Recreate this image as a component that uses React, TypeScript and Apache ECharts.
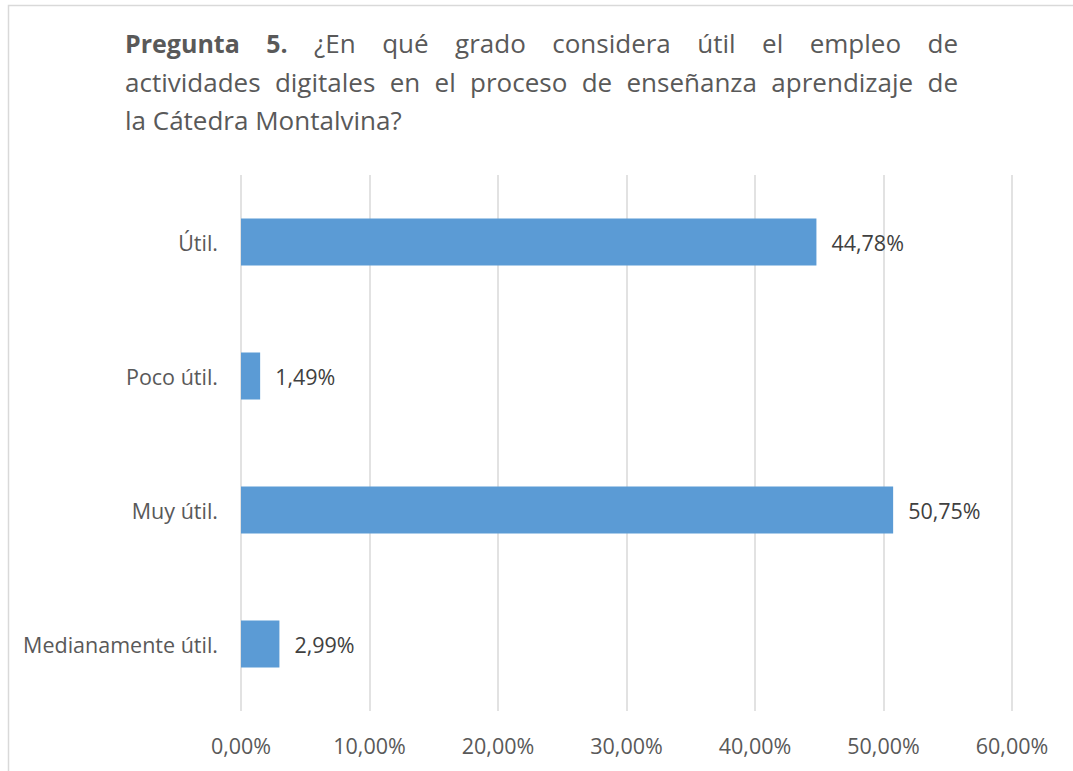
import React, { useEffect, useRef } from "react";
import * as echarts from "echarts";

const categories = ["Útil.", "Poco útil.", "Muy útil.", "Medianamente útil."];
const values = [44.78, 1.49, 50.75, 2.99];
const xTicks = [0, 10, 20, 30, 40, 50, 60];

const titleLine1 = [
  { t: "Pregunta", b: true },
  { t: "5.", b: true },
  { t: "¿En", b: false },
  { t: "qué", b: false },
  { t: "grado", b: false },
  { t: "considera", b: false },
  { t: "útil", b: false },
  { t: "el", b: false },
  { t: "empleo", b: false },
  { t: "de", b: false },
];
const titleLine2 = "actividades digitales en el proceso de enseñanza aprendizaje de";
const titleLine3 = "la Cátedra Montalvina?";

const FONT = "'Open Sans', sans-serif";
const TITLE_SIZE = 26;
const BOLD_SIZE = 25;
const LABEL_SIZE = 21.5;
const TEXT_COLOR = "#595959";

function fmt(v: number) {
  return v.toFixed(2).replace(".", ",") + "%";
}

function measure(text: string, bold: boolean) {
  const c = document.createElement("canvas").getContext("2d")!;
  c.font = `${bold ? "bold " : ""}${bold ? BOLD_SIZE : TITLE_SIZE}px 'Open Sans'`;
  return c.measureText(text).width;
}

function justifiedLine(words: { t: string; b: boolean }[], x0: number, x1: number, y: number) {
  const widths = words.map((w) => measure(w.t, w.b));
  const total = widths.reduce((a, b) => a + b, 0);
  const gap = (x1 - x0 - total) / (words.length - 1);
  let x = x0;
  return words.map((w, i) => {
    const el = {
      type: "text",
      x,
      y,
      style: {
        text: w.t,
        fontFamily: FONT,
        fontSize: w.b ? BOLD_SIZE : TITLE_SIZE,
        fontWeight: w.b ? "bold" : "normal",
        fill: TEXT_COLOR,
        verticalAlign: "middle",
        align: "left",
      },
    };
    x += widths[i] + gap;
    return el;
  });
}

export default function App() {
  const ref = useRef<HTMLDivElement>(null);
  useEffect(() => {
    const chart = echarts.init(ref.current!, null, { renderer: "svg" });
    const line2Words = titleLine2.split(" ").map((t) => ({ t, b: false }));
    const graphics: any[] = [
      {
        type: "rect",
        shape: { x: 8.5, y: 5.5, width: 1200, height: 900 },
        style: { fill: "none", stroke: "#D9D9D9", lineWidth: 1.5 },
        silent: true,
      },
      ...justifiedLine(titleLine1, 125, 958, 43),
      ...justifiedLine(line2Words, 125, 958, 82),
      {
        type: "text",
        x: 125,
        y: 120,
        style: {
          text: titleLine3,
          fontFamily: FONT,
          fontSize: TITLE_SIZE,
          fill: TEXT_COLOR,
          verticalAlign: "middle",
          align: "left",
        },
      },
    ];
    chart.setOption({
      animation: false,
      backgroundColor: "#fff",
      graphic: graphics,
      grid: { left: 241, right: 61, top: 175, bottom: 60, containLabel: false },
      xAxis: {
        type: "value",
        min: xTicks[0],
        max: xTicks[xTicks.length - 1],
        interval: 10,
        axisLine: { show: false },
        axisTick: { show: false },
        splitLine: { show: true, lineStyle: { color: "#D9D9D9", width: 1.5 } },
        axisLabel: {
          formatter: (v: number) => fmt(v),
          color: TEXT_COLOR,
          fontFamily: FONT,
          fontSize: LABEL_SIZE,
          margin: 23,
        },
      },
      yAxis: {
        type: "category",
        data: categories,
        inverse: true,
        axisLine: { show: false },
        axisTick: { show: false },
        splitLine: { show: false },
        axisLabel: {
          color: TEXT_COLOR,
          fontFamily: FONT,
          fontSize: LABEL_SIZE,
          margin: 23,
        },
      },
      series: [
        {
          type: "bar",
          data: values,
          barCategoryGap: "65%",
          itemStyle: { color: "#5B9BD5" },
          label: {
            show: true,
            position: "right",
            distance: 15,
            formatter: (p: any) => fmt(p.value),
            color: "#404040",
            fontFamily: FONT,
            fontSize: LABEL_SIZE,
          },
        },
      ],
    });
    return () => chart.dispose();
  }, []);
  return (
    <div
      ref={ref}
      style={{ position: "absolute", left: 0, top: 0, width: 1073, height: 771 }}
    />
  );
}
